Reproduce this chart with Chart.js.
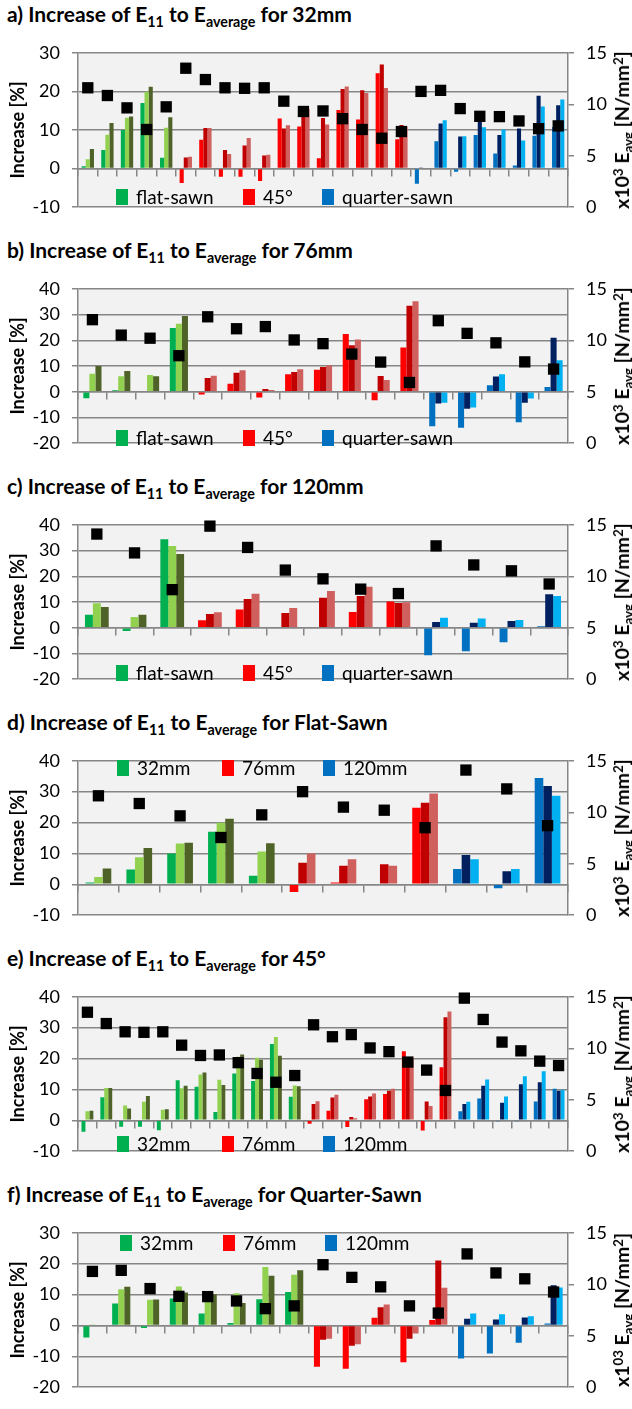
<!DOCTYPE html>
<html><head><meta charset="utf-8">
<script src="https://cdn.jsdelivr.net/npm/chart.js@4.4.0/dist/chart.umd.min.js"></script>
<style>
html,body{margin:0;padding:0;background:#fff;}
#wrap{position:relative;width:632px;height:1409px;overflow:hidden;font-family:Lato,'Noto Sans',sans-serif;color:#000;}
canvas{position:absolute;left:0;}
.ttl{position:absolute;left:7px;font-weight:bold;font-size:21px;white-space:nowrap;line-height:21px;}
.ttl sub{font-size:0.68em;vertical-align:-0.32em;line-height:0;}
.rt{position:absolute;font-weight:bold;font-size:19.5px;white-space:nowrap;line-height:20px;transform:translate(-50%,-50%) rotate(-90deg);}
.rt sup{font-size:0.68em;vertical-align:0.45em;line-height:0;}
.rt sub{font-size:0.68em;vertical-align:-0.3em;line-height:0;}
.lg{position:absolute;font-size:19px;line-height:18px;white-space:nowrap;}
.lg i{position:absolute;left:0;top:1px;width:12px;height:16px;}
.lg span{position:absolute;left:20px;top:0;}
</style>
</head><body><div id="wrap"></div>
<script>
// ---- data: three bars per specimen (E11 increase, %) and E_avg (x10^3 N/mm^2) ----
// 32 mm
const flat32_b1 = [0.6, 4.8, 10.0, 17.0, 2.8];
const flat32_b2 = [2.4, 8.8, 13.2, 19.9, 10.6];
const flat32_b3 = [5.1, 11.8, 13.5, 21.2, 13.3];
const flat32_E  = [11.6, 10.85, 9.65, 7.55, 9.75];
const d45_32_b1 = [-3.7, 7.5, -2.1, -2.1, -3.2, 13.0, 10.9, 2.7, 15.2, 12.7, 24.7, 7.6];
const d45_32_b2 = [2.9, 10.5, 4.8, 6.0, 3.4, 10.4, 14.8, 13.1, 20.6, 20.3, 27.0, 11.3];
const d45_32_b3 = [3.1, 10.5, 3.8, 7.9, 3.6, 11.2, 15.5, 11.4, 21.3, 19.6, 20.9, 11.0];
const d45_32_E  = [13.5, 12.4, 11.6, 11.55, 11.6, 10.3, 9.3, 9.35, 8.6, 7.55, 6.7, 7.35];
const qs32_b1 = [-3.9, 7.1, -0.8, 8.7, 3.9, 0.8, 8.5, 10.8];
const qs32_b2 = [0.3, 11.7, 8.3, 12.6, 8.7, 10.4, 18.9, 16.4];
const qs32_b3 = [0.2, 12.5, 8.4, 10.7, 10.1, 7.3, 16.1, 17.9];
const qs32_E  = [11.25, 11.35, 9.58, 8.83, 8.8, 8.38, 7.63, 7.9];
// 76 mm
const flat76_b1 = [-2.5, 0.6, 0.3, 24.8];
const flat76_b2 = [7.0, 6.0, 6.5, 26.4];
const flat76_b3 = [10.0, 8.1, 6.0, 29.4];
const flat76_E  = [12.0, 10.5, 10.2, 8.5];
const d45_76_b1 = [-1.1, 3.1, -2.2, 6.8, 8.5, 22.4, -3.3, 17.2];
const d45_76_b2 = [5.3, 7.4, 1.1, 7.7, 9.6, 18.1, 6.1, 33.4];
const d45_76_b3 = [6.2, 8.3, 0.7, 8.7, 10.2, 20.3, 4.6, 35.2];
const d45_76_E  = [12.28, 11.12, 11.33, 10.03, 9.67, 8.66, 7.88, 5.9];
const qs76_b1 = [-13.4, -14.0, 2.5, -11.9, 1.8];
const qs76_b2 = [-4.6, -6.6, 5.9, -4.3, 21.0];
const qs76_b3 = [-4.3, -6.1, 6.8, -2.6, 12.2];
const qs76_E  = [11.9, 10.67, 9.75, 7.9, 7.2];
// 120 mm
const flat120_b1 = [5.0, -1.3, 34.4];
const flat120_b2 = [9.5, 4.2, 31.8];
const flat120_b3 = [8.1, 5.0, 28.7];
const flat120_E  = [14.1, 12.27, 8.7];
const d45_120_b1 = [2.9, 7.1, -0.3, -0.3, 6.1, 10.2];
const d45_120_b2 = [5.3, 11.2, 5.7, 11.7, 12.3, 9.6];
const d45_120_b3 = [6.0, 13.2, 7.7, 14.3, 15.9, 9.9];
const d45_120_E  = [14.87, 12.8, 10.6, 9.75, 8.75, 8.32];
const qs120_b1 = [-10.7, -9.1, -5.6, 0.6];
const qs120_b2 = [2.2, 1.9, 2.6, 13.0];
const qs120_b3 = [3.9, 3.6, 3.0, 12.3];
const qs120_E  = [12.95, 11.1, 10.53, 9.25];

const FLAT32 = [flat32_b1, flat32_b2, flat32_b3, flat32_E];
const D45_32 = [d45_32_b1, d45_32_b2, d45_32_b3, d45_32_E];
const QS32 = [qs32_b1, qs32_b2, qs32_b3, qs32_E];
const FLAT76 = [flat76_b1, flat76_b2, flat76_b3, flat76_E];
const D45_76 = [d45_76_b1, d45_76_b2, d45_76_b3, d45_76_E];
const QS76 = [qs76_b1, qs76_b2, qs76_b3, qs76_E];
const FLAT120 = [flat120_b1, flat120_b2, flat120_b3, flat120_E];
const D45_120 = [d45_120_b1, d45_120_b2, d45_120_b3, d45_120_E];
const QS120 = [qs120_b1, qs120_b2, qs120_b3, qs120_E];

const panelGroups = [
  [FLAT32, D45_32, QS32],
  [FLAT76, D45_76, QS76],
  [FLAT120, D45_120, QS120],
  [FLAT32, FLAT76, FLAT120],
  [D45_32, D45_76, D45_120],
  [QS32, QS76, QS120]
];
const panelTitles = [
  'a) Increase of E<sub>11</sub> to E<sub>average</sub> for 32mm',
  'b) Increase of E<sub>11</sub> to E<sub>average</sub> for 76mm',
  'c) Increase of E<sub>11</sub> to E<sub>average</sub> for 120mm',
  'd) Increase of E<sub>11</sub> to E<sub>average</sub> for Flat-Sawn',
  'e) Increase of E<sub>11</sub> to E<sub>average</sub> for 45°',
  'f) Increase of E<sub>11</sub> to E<sub>average</sub> for Quarter-Sawn'
];
const rightTitles = [
  'x10<sup>3</sup> E<sub>avg</sub> [N/mm<sup>2</sup>]',
  'x10<sup>3</sup> E<sub>avg</sub> [N/mm<sup>2</sup>]',
  'x10<sup>3</sup> E<sub>avg</sub> [N/mm<sup>2</sup>]',
  'x10<sup>3</sup> E<sub>avg</sub> [N/mm<sup>2</sup>]',
  'x10<sup>3</sup> E<sub>avg</sub> [N/mm<sup>2</sup>]',
  'x1<sup>03</sup> E<sub>avg</sub> [N/mm<sup>2</sup>]'
];
const orientLabels = ['flat-sawn', '45°', 'quarter-sawn'];
const sizeLabels = ['32mm', '76mm', '120mm'];
const panelLegend = [orientLabels, orientLabels, orientLabels, sizeLabels, sizeLabels, sizeLabels];
const leftMin = [-10, -20, -20, -10, -10, -20];
const leftMax = [30, 40, 40, 40, 40, 30];
const rightMin = 0, rightMax = 15, rightStep = 5, leftStep = 10;

// ---- styling / layout ----
const palette = [
  ['#00b050', '#92d050', '#4f6228'],
  ['#ff0000', '#c00000', '#d0605e'],
  ['#0070c0', '#002060', '#00b0f0']
];
const GRID = '#868686';
const FONT = 'Lato';
const plotTops = [44, 280, 516, 752, 988, 1224];
const plotH = 172;
const PLOT_L = 78, PLOT_R = 568, W = 632, PAD = 14;
const legendDy = [153, 158, 157, 16, 156, 19];
const legendXs = [[116, 243, 322], [116, 243, 322], [116, 243, 322], [117, 222, 323], [117, 222, 323], [120, 223, 325]];

const wrap = document.getElementById('wrap');
const bgPlugin = {
  id: 'plotBg',
  beforeDraw(chart) {
    const { ctx, chartArea: a } = chart;
    ctx.save(); ctx.fillStyle = '#f2f2f2';
    ctx.fillRect(a.left, a.top, a.right - a.left, a.bottom - a.top);
    ctx.restore();
  }
};

function build(i) {
  const top = plotTops[i];
  const t = document.createElement('div');
  t.className = 'ttl'; t.style.top = (top - 41.5) + 'px'; t.innerHTML = panelTitles[i];
  wrap.appendChild(t);
  const cv = document.createElement('canvas');
  cv.width = W; cv.height = plotH + 2 * PAD;
  cv.style.top = (top - PAD) + 'px';
  wrap.appendChild(cv);
  const rt = document.createElement('div');
  rt.className = 'rt'; rt.style.left = '622px'; rt.style.top = (top + plotH / 2) + 'px';
  rt.innerHTML = rightTitles[i];
  wrap.appendChild(rt);
  panelLegend[i].forEach((lab, k) => {
    const d = document.createElement('div');
    d.className = 'lg';
    d.style.left = legendXs[i][k] + 'px';
    d.style.top = (top + legendDy[i] - 9) + 'px';
    d.innerHTML = '<i style="background:' + palette[k][0] + '"></i><span>' + lab + '</span>';
    wrap.appendChild(d);
  });

  const groups = panelGroups[i];
  const b = [[], [], []], E = [], fam = [];
  groups.forEach((g, gi) => {
    g[3].forEach((e, k) => {
      b[0].push(g[0][k]); b[1].push(g[1][k]); b[2].push(g[2][k]);
      E.push(e); fam.push(gi);
    });
  });
  const labels = E.map((_, k) => String(k + 1));
  const datasets = [{
    type: 'line', label: 'E avg', data: E, yAxisID: 'y1', showLine: false, clip: false,
    pointStyle: 'rect', pointRadius: 8, pointHoverRadius: 8,
    pointBackgroundColor: '#000', pointBorderColor: '#000', pointBorderWidth: 0, order: 0
  }];
  [0, 1, 2].forEach(s => datasets.push({
    type: 'bar', label: 'bar ' + (s + 1), data: b[s], yAxisID: 'y',
    backgroundColor: fam.map(f => palette[f][s]), borderWidth: 0,
    categoryPercentage: 0.63, barPercentage: 1.0, order: 1
  }));

  new Chart(cv, {
    type: 'bar',
    data: { labels, datasets },
    plugins: [bgPlugin],
    options: {
      responsive: false, animation: false, devicePixelRatio: 1,
      layout: { padding: { top: PAD, bottom: PAD, left: 0, right: 0 } },
      plugins: { legend: { display: false }, tooltip: { enabled: false }, title: { display: false } },
      scales: {
        x: {
          type: 'category', offset: true, position: { y: 0 },
          grid: { offset: true, drawOnChartArea: false, drawTicks: true, tickLength: 7, color: GRID, lineWidth: 1.5 },
          border: { display: true, color: GRID, width: 1.5 },
          ticks: { display: false },
          afterFit(s) { s.height = 0; }
        },
        y: {
          position: 'left', min: leftMin[i], max: leftMax[i],
          ticks: { stepSize: leftStep, padding: 12, color: '#000', font: { family: FONT, size: 18 } },
          grid: { color: GRID, lineWidth: 1.5, tickLength: 6, drawTicks: true },
          border: { display: true, color: GRID, width: 1.5 },
          title: { display: true, text: 'Increase [%]', color: '#000', font: { family: FONT, size: 18, weight: 'bold' }, padding: { top: 7, bottom: 0 } },
          afterFit(s) { s.width = PLOT_L; }
        },
        y1: {
          position: 'right', min: rightMin, max: rightMax,
          ticks: { stepSize: rightStep, padding: 12, color: '#000', font: { family: FONT, size: 18 } },
          grid: { drawOnChartArea: false, color: GRID, lineWidth: 1.5, tickLength: 6 },
          border: { display: true, color: GRID, width: 1.5 },
          afterFit(s) { s.width = W - PLOT_R; }
        }
      }
    }
  });
}
for (let i = 0; i < 6; i++) build(i);
</script>
</body></html>
